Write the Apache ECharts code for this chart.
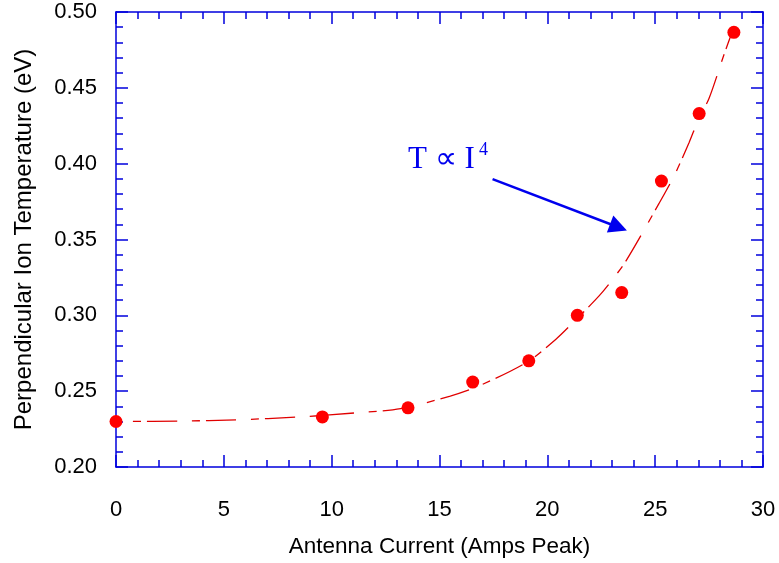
<!DOCTYPE html>
<html lang="en">
<head>
    <meta charset="UTF-8">
    <title>Ion temperature vs antenna current</title>
    <style>
        body{ margin:0; background:#fff; }
    </style>
    <script src="https://cdn.jsdelivr.net/npm/echarts@6/dist/echarts.min.js"></script>
</head>
<body>
<div id="chart" style="width:779px;height:563px;"></div>

<script>
    // measured points (antenna current, ion temperature)
    let current = [0, 9.57, 13.54, 16.54, 19.14, 21.39, 23.45, 25.29, 27.04, 28.65];
    let temperature = [0.230, 0.233, 0.239, 0.256, 0.270, 0.300, 0.315, 0.3885, 0.433, 0.4866];

    // fitted curve
    let fitX = [0, 3, 5.6, 8.5, 11.3, 13.2, 15.5, 16.9, 19.1, 20.4, 21.15, 22.4, 23.0, 23.67, 25.18, 25.91, 26.57, 27.03, 27.5, 28.22, 28.64];
    let fitY = [0.2300, 0.2303, 0.2311, 0.2330, 0.2359, 0.2385, 0.2468, 0.2539, 0.2695, 0.2843, 0.2946, 0.3128, 0.3232, 0.3364, 0.3738, 0.3929, 0.4138, 0.4299, 0.4431, 0.4731, 0.4894];

    // arrow of the annotation, in data units
    let arrowFrom = [17.46, 0.3898];
    let arrowTo = [23.3, 0.3581];

    let blue = '#0000dd';
    let font = 'Liberation Sans';

    let chart = echarts.init(document.getElementById('chart'));

    let axisCommon = {
        axisLine: {show: true, onZero: false, lineStyle: {color: blue, width: 1.5}},
        axisTick: {show: true, inside: true, length: 12, lineStyle: {color: blue, width: 1.5}},
        minorTick: {show: true, splitNumber: 5, length: 7, lineStyle: {color: blue, width: 1.5}},
        splitLine: {show: false}
    };

    let option = {
        animation: false,
        grid: {left: 116, right: 16, top: 12, bottom: 96},
        xAxis: [
            Object.assign({
                type: 'value', min: 0, max: 30, interval: 5, position: 'bottom',
                name: 'Antenna Current (Amps Peak)', nameLocation: 'middle', nameGap: 68,
                nameTextStyle: {fontFamily: font, fontSize: 22.5, color: '#000'},
                axisLabel: {fontFamily: font, fontSize: 22, color: '#000', margin: 32}
            }, axisCommon),
            Object.assign({
                type: 'value', min: 0, max: 30, interval: 5, position: 'top',
                axisLabel: {show: false}
            }, axisCommon)
        ],
        yAxis: [
            Object.assign({
                type: 'value', min: 0.2, max: 0.5, interval: 0.05, position: 'left',
                name: 'Perpendicular Ion Temperature (eV)', nameLocation: 'middle', nameGap: 80,
                nameTextStyle: {fontFamily: font, fontSize: 24, color: '#000'},
                axisLabel: {
                    fontFamily: font, fontSize: 22, color: '#000', margin: 19,
                    formatter: function (v) { return v.toFixed(2); }
                }
            }, axisCommon),
            Object.assign({
                type: 'value', min: 0.2, max: 0.5, interval: 0.05, position: 'right',
                axisLabel: {show: false}
            }, axisCommon)
        ],
        graphic: [
            {type: 'text', left: 408, top: 144,
                style: {text: 'T \u221D I', fontFamily: 'Liberation Serif', fontSize: 31, fill: '#0000ee'}},
            {type: 'text', left: 479, top: 141,
                style: {text: '4', fontFamily: 'Liberation Serif', fontSize: 18, fill: '#0000ee'}}
        ],
        series: [
            {
                type: 'line',
                data: fitX.map((x, i) => [x, fitY[i]]),
                smooth: 0.3,
                showSymbol: false,
                silent: true,
                lineStyle: {color: '#e00000', width: 1.3, type: [30, 15, 8, 6], dashOffset: 28},
                z: 2
            },
            {
                type: 'scatter',
                data: current.map((x, i) => [x, temperature[i]]),
                symbolSize: 13,
                itemStyle: {color: '#ff0000', opacity: 1},
                z: 3,
                markLine: {
                    silent: true,
                    symbol: ['none', 'triangle'],
                    symbolSize: 18,
                    label: {show: false},
                    lineStyle: {color: '#0000ee', width: 2.5, type: 'solid', opacity: 1},
                    itemStyle: {color: '#0000ee'},
                    data: [[{coord: arrowFrom}, {coord: arrowTo}]]
                }
            }
        ]
    };
    chart.setOption(option);
</script>
</body>
</html>
